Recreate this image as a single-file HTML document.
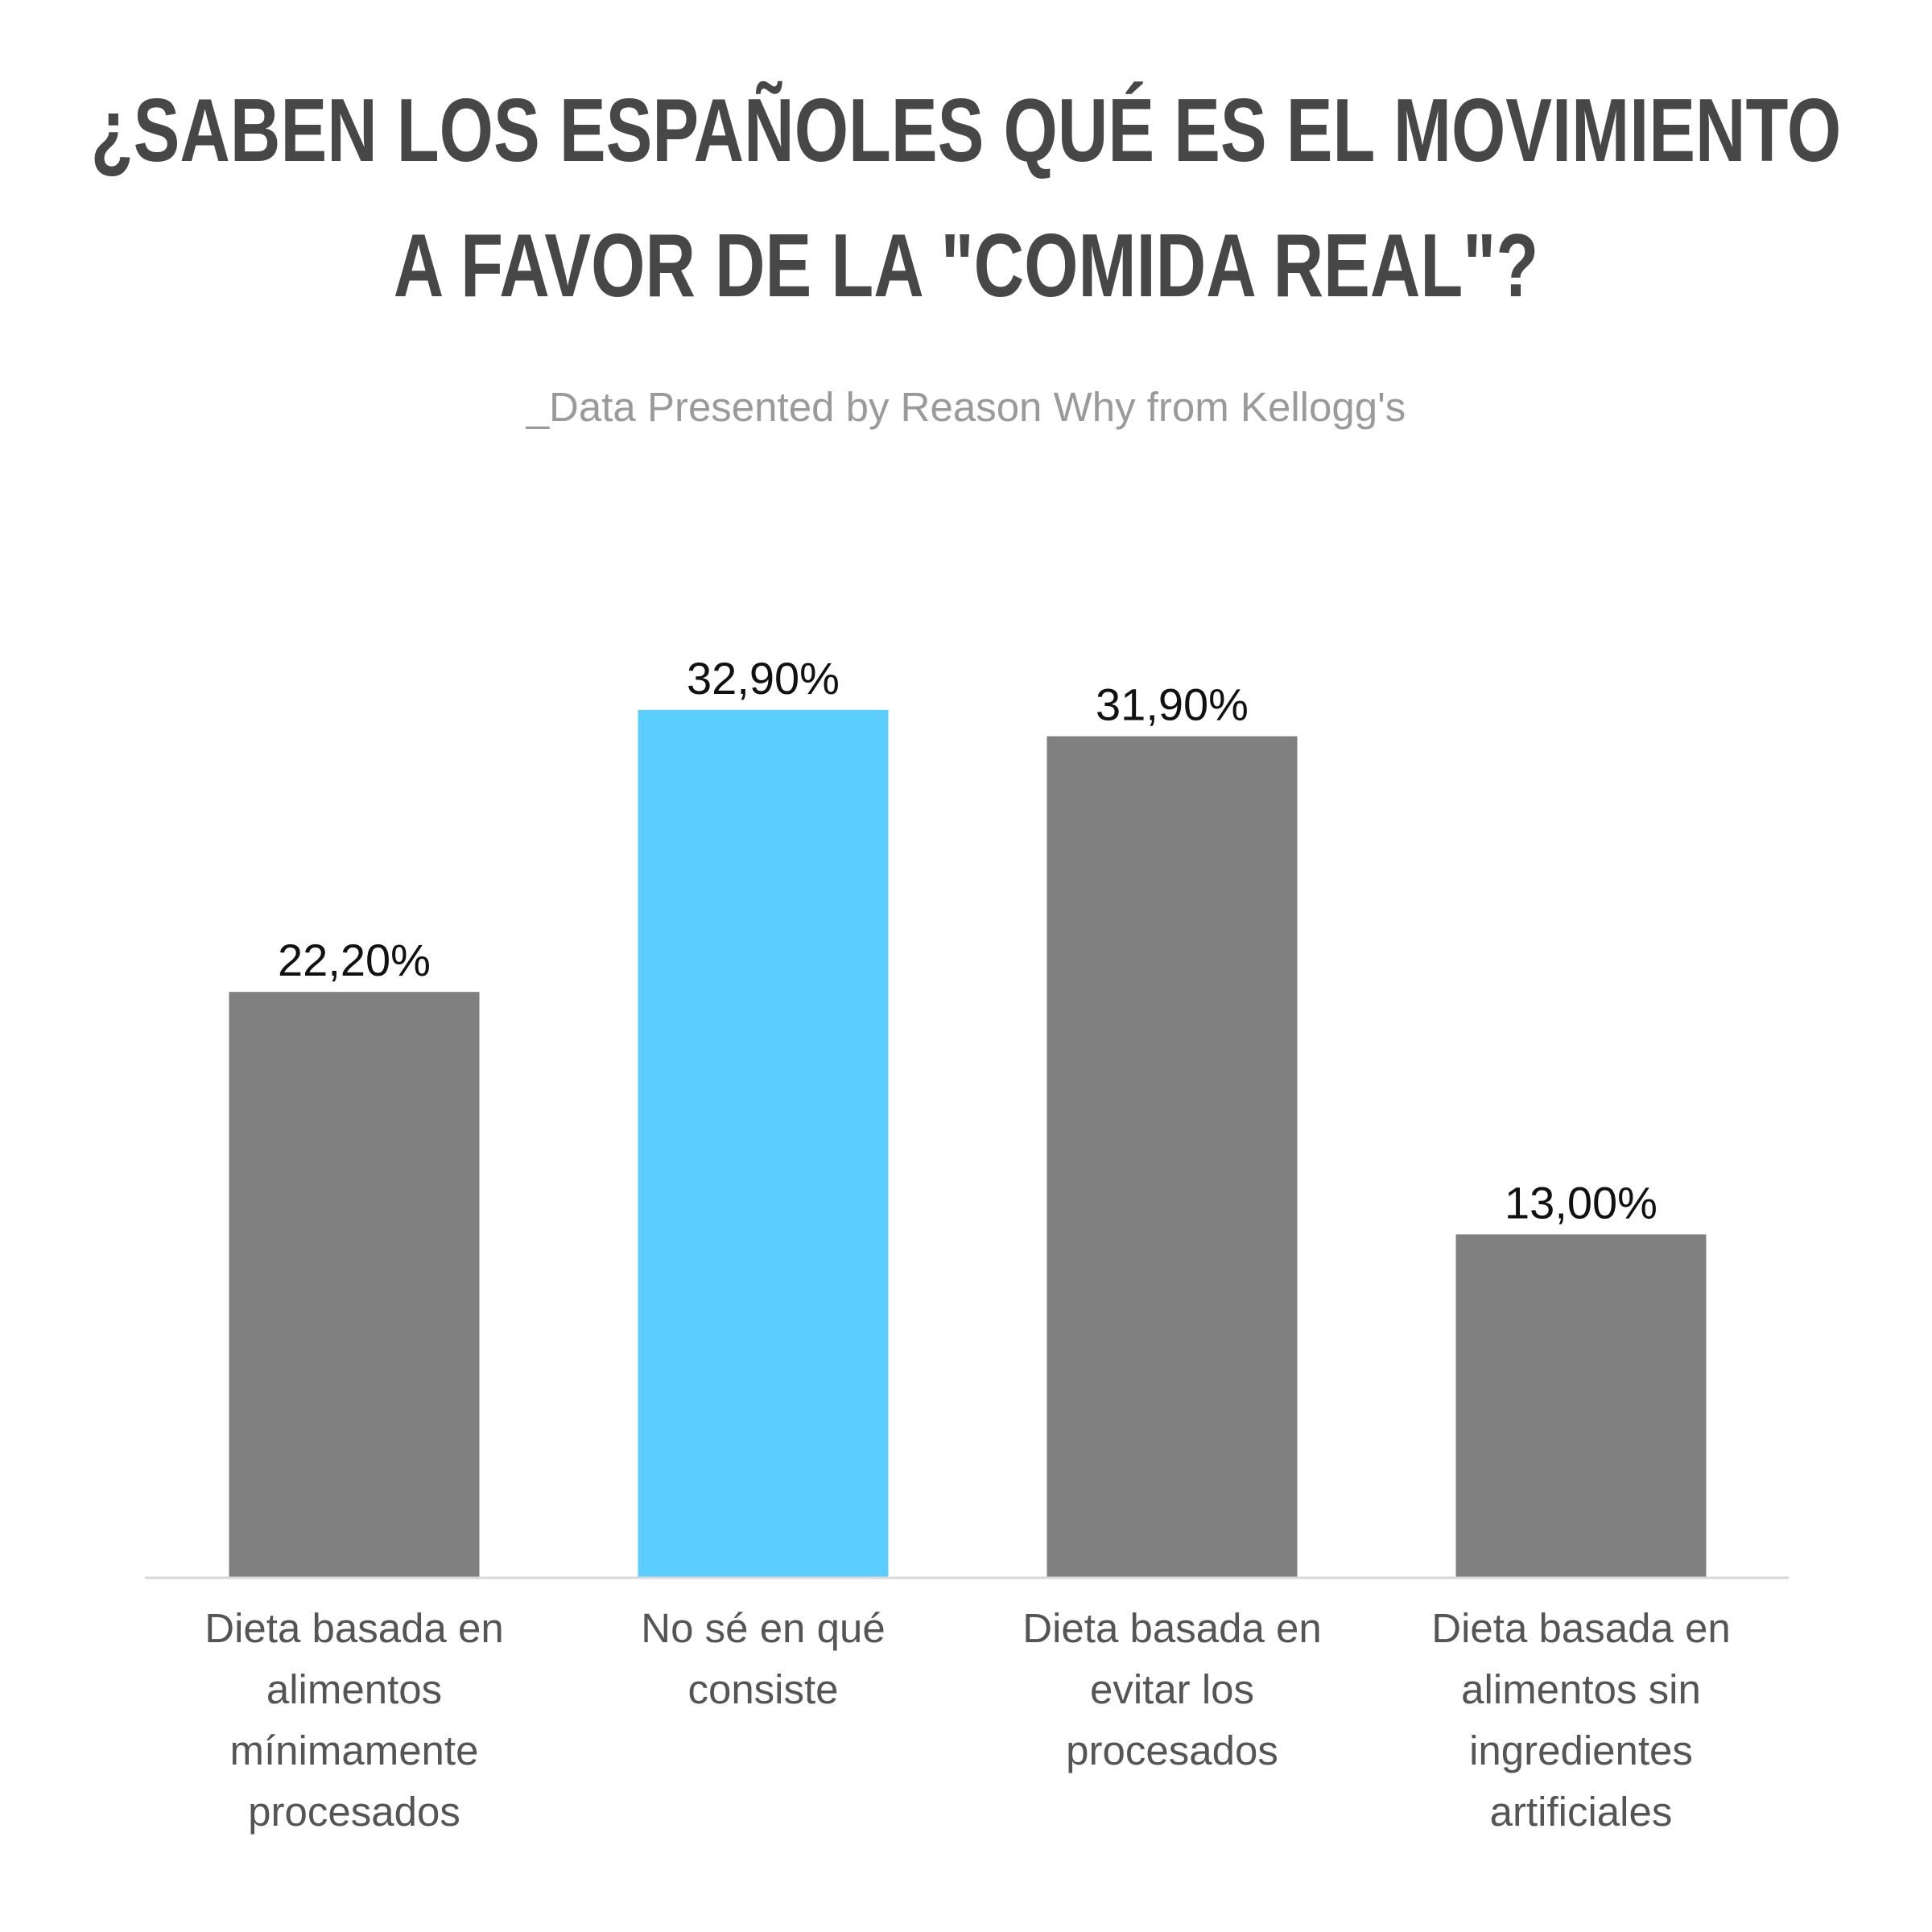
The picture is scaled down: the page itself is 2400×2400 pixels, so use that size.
<!DOCTYPE html>
<html><head><meta charset="utf-8"><style>
html,body{margin:0;padding:0;background:#fff;}
body{width:2400px;height:2400px;position:relative;overflow:hidden;font-family:"Liberation Sans",sans-serif;}
.tl{position:absolute;left:-800px;width:4000px;text-align:center;color:#474747;font-weight:bold;font-size:111px;line-height:168px;white-space:nowrap;transform:scaleX(0.78);transform-origin:center;}
.sub{position:absolute;top:476px;left:0;width:2400px;text-align:center;color:#9a9a9a;font-size:51px;}
</style></head><body>
<div class="tl" style="top:78px">¿SABEN LOS ESPAÑOLES QUÉ ES EL MOVIMIENTO</div>
<div class="tl" style="top:246px">A FAVOR DE LA "COMIDA REAL"?</div>
<div class="sub">_Data Presented by Reason Why from Kellogg's</div>
<svg id="chart" width="2400" height="2400" style="position:absolute;left:0;top:0"></svg>
<script>
const categories=[["Dieta basada en","alimentos","mínimamente","procesados"],["No sé en qué","consiste"],["Dieta basada en","evitar los","procesados"],["Dieta basada en","alimentos sin","ingredientes","artificiales"]];
const values=[22.2,32.9,31.9,13.0];
const valueLabels=["22,20%","32,90%","31,90%","13,00%"];
const colors=["#808080","#5bcdfe","#808080","#808080"];
const svg=document.getElementById('chart');
const NS="http://www.w3.org/2000/svg";
const baseY=1959, perUnit=32.74, x0=440, step=508, bw=311;
function y(v){return baseY-v*perUnit;}
function xc(i){return x0+i*step;}
values.forEach((v,i)=>{
  const r=document.createElementNS(NS,'rect');
  
  
  r.setAttribute('x',xc(i)-bw/2);r.setAttribute('y',y(v));
  r.setAttribute('width',bw);r.setAttribute('height',baseY-y(v));
  r.setAttribute('fill',colors[i]);svg.appendChild(r);
  const t=document.createElementNS(NS,'text');
  
  
  t.setAttribute('x',xc(i));t.setAttribute('y',y(v)-20);
  t.setAttribute('text-anchor','middle');t.setAttribute('font-size','56');
  t.setAttribute('font-family','Liberation Sans, sans-serif');t.setAttribute('fill','#111');
  t.textContent=valueLabels[i];svg.appendChild(t);
  categories[i].forEach((line,j)=>{
    const c=document.createElementNS(NS,'text');
    
    
    c.setAttribute('x',xc(i));c.setAttribute('y',2040+j*76);
    c.setAttribute('text-anchor','middle');c.setAttribute('font-size','51');
    c.setAttribute('font-family','Liberation Sans, sans-serif');c.setAttribute('fill','#555');
    c.textContent=line;svg.appendChild(c);
  });
});
const ax=document.createElementNS(NS,'line');


ax.setAttribute('x1',180);ax.setAttribute('x2',2222);ax.setAttribute('y1',baseY+1);ax.setAttribute('y2',baseY+1);
ax.setAttribute('stroke','#d9d9d9');ax.setAttribute('stroke-width','3');svg.appendChild(ax);
</script>
</body></html>
